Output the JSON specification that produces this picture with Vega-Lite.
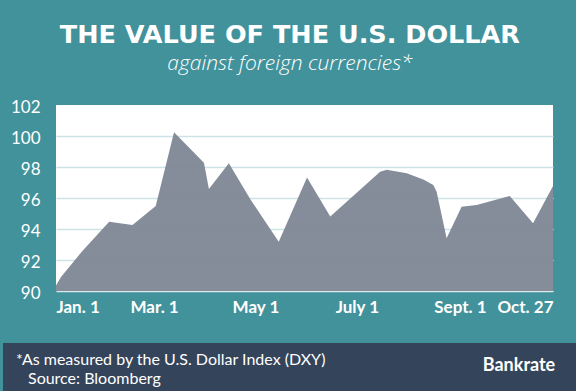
{
  "$schema": "https://vega.github.io/schema/vega-lite/v6.json",
  "background": "#42929b",
  "padding": {"top": 22, "left": 0, "right": 0, "bottom": 0},
  "title": {
    "text": "THE VALUE OF THE U.S. DOLLAR",
    "subtitle": "against foreign currencies*",
    "anchor": "middle",
    "frame": "bounds",
    "baseline": "top",
    "font": "DejaVu Sans",
    "fontSize": 25.5,
    "fontWeight": "bold",
    "color": "white",
    "subtitleFont": "Open Sans",
    "subtitleFontSize": 21,
    "subtitleFontStyle": "italic",
    "subtitleFontWeight": 300,
    "subtitleColor": "white",
    "subtitlePadding": 5,
    "offset": 24
  },
  "datasets": {
    "dxy": [
      {"date": "2015-01-01", "dxy": 90.35},
      {"date": "2015-01-04", "dxy": 90.9},
      {"date": "2015-01-17", "dxy": 92.6},
      {"date": "2015-02-02", "dxy": 94.47},
      {"date": "2015-02-16", "dxy": 94.26},
      {"date": "2015-03-02", "dxy": 95.48},
      {"date": "2015-03-13", "dxy": 100.24},
      {"date": "2015-03-31", "dxy": 98.28},
      {"date": "2015-04-03", "dxy": 96.58},
      {"date": "2015-04-15", "dxy": 98.24},
      {"date": "2015-04-28", "dxy": 95.9},
      {"date": "2015-05-15", "dxy": 93.18},
      {"date": "2015-06-01", "dxy": 97.33},
      {"date": "2015-06-15", "dxy": 94.8},
      {"date": "2015-07-15", "dxy": 97.7},
      {"date": "2015-07-19", "dxy": 97.82},
      {"date": "2015-07-31", "dxy": 97.6},
      {"date": "2015-08-10", "dxy": 97.2},
      {"date": "2015-08-16", "dxy": 96.84},
      {"date": "2015-08-18", "dxy": 96.4},
      {"date": "2015-08-24", "dxy": 93.4},
      {"date": "2015-09-02", "dxy": 95.44},
      {"date": "2015-09-11", "dxy": 95.55},
      {"date": "2015-10-01", "dxy": 96.13},
      {"date": "2015-10-15", "dxy": 94.37},
      {"date": "2015-10-27", "dxy": 96.77}
    ]
  },
  "spacing": 28,
  "vconcat": [
    {
      "spacing": 16,
      "hconcat": [
        {
          "width": 1,
          "height": 186,
          "data": {"name": "dxy"},
          "mark": {"type": "point", "opacity": 0},
          "encoding": {
            "y": {
              "field": "dxy",
              "type": "quantitative",
              "scale": {"domain": [90, 102], "nice": false, "zero": false},
              "axis": {
                "orient": "right",
                "values": [90, 92, 94, 96, 98, 100, 102],
                "title": null,
                "domain": false,
                "ticks": false,
                "grid": false,
                "labelAlign": "right",
                "labelBaseline": "middle",
                "labelPadding": 36,
                "labelOffset": 2,
                "labelFont": "Lato",
                "labelFontSize": 17,
                "labelColor": "white"
              }
            }
          }
        },
        {
          "width": 497,
          "height": 186,
          "view": {"fill": "white", "stroke": null},
          "data": {"name": "dxy"},
          "mark": {"type": "area", "color": "#7d8492", "opacity": 0.93, "interpolate": "linear", "clip": true},
          "encoding": {
            "x": {
              "field": "date",
              "type": "temporal",
              "scale": {
                "type": "utc",
                "domain": [
                  {"year": 2015, "month": 1, "date": 1, "utc": true},
                  {"year": 2015, "month": 10, "date": 27, "utc": true}
                ]
              },
              "axis": {
                "title": null,
                "values": [
                  {"year": 2015, "month": 1, "date": 1, "utc": true},
                  {"year": 2015, "month": 3, "date": 1, "utc": true},
                  {"year": 2015, "month": 5, "date": 1, "utc": true},
                  {"year": 2015, "month": 7, "date": 1, "utc": true},
                  {"year": 2015, "month": 9, "date": 1, "utc": true},
                  {"year": 2015, "month": 10, "date": 27, "utc": true}
                ],
                "labelExpr": "['Jan. 1','','Mar. 1','','May 1','','July 1','','Sept. 1','Oct. 27'][utcmonth(datum.value)]",
                "labelFlush": true,
                "labelOverlap": false,
                "grid": false,
                "ticks": false,
                "domain": true,
                "domainColor": "#dbe9eb",
                "domainWidth": 1.5,
                "labelPadding": 8,
                "labelFont": "Lato",
                "labelFontSize": 17,
                "labelFontWeight": "bold",
                "labelColor": "white"
              }
            },
            "y": {
              "field": "dxy",
              "type": "quantitative",
              "scale": {"domain": [90, 102], "nice": false, "zero": false},
              "axis": {
                "values": [92, 94, 96, 98, 100],
                "title": null,
                "labels": false,
                "ticks": false,
                "domain": false,
                "grid": true,
                "gridColor": "#cde2e6",
                "gridWidth": 1.5
              }
            }
          }
        }
      ]
    },
    {
      "spacing": 0,
      "hconcat": [
        {
          "width": 456,
          "height": 48,
          "view": {"fill": "#34445b", "stroke": null},
          "title": {
            "text": ["*As measured by the U.S. Dollar Index (DXY)", "\u2800Source: Bloomberg"],
            "anchor": "start",
            "frame": "group",
            "baseline": "top",
            "offset": -44,
            "dx": 13,
            "font": "Lato",
            "fontSize": 16,
            "fontWeight": "normal",
            "lineHeight": 19,
            "color": "white"
          },
          "data": {"values": []},
          "mark": "text"
        },
        {
          "width": 120,
          "height": 48,
          "view": {"fill": "#34445b", "stroke": null},
          "title": {
            "text": "Bankrate",
            "anchor": "middle",
            "frame": "group",
            "baseline": "top",
            "offset": -32,
            "font": "Lato",
            "fontSize": 18,
            "fontWeight": "bold",
            "color": "white"
          },
          "data": {"values": []},
          "mark": "text"
        }
      ]
    }
  ],
  "config": {
    "view": {"stroke": null},
    "font": "Lato"
  }
}
